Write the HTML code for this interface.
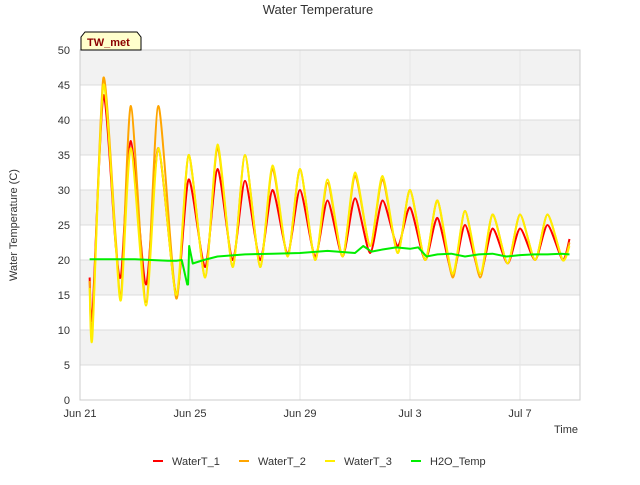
<!DOCTYPE html>
<html><head><meta charset="utf-8"><style>
body{margin:0;background:#fff;font-family:"Liberation Sans",sans-serif;}
svg text{font-family:"Liberation Sans",sans-serif;}
</style></head><body>
<svg id="c" width="640" height="480">
<text x="318" y="14" text-anchor="middle" font-size="13" fill="#333">Water Temperature</text>
<g id="bands"></g><g id="grid"></g><g id="series"></g><g id="axes"></g>
<text x="17" y="225" transform="rotate(-90 17 225)" text-anchor="middle" font-size="11" fill="#333">Water Temperature (C)</text>
<text x="578" y="433" text-anchor="end" font-size="11" fill="#333">Time</text>
<g><path d="M81 50 L81 37 L85 32 L137 32 L141 37 L141 50 Z" fill="#ffffcc" stroke="#000"/><text x="87" y="46" font-size="11" font-weight="bold" fill="#8b0000">TW_met</text></g>
<g id="legend"></g>
</svg>
<script>
const times=[0.35,0.45,0.85,1.3,1.5,1.85,2.4,2.85,3.5,3.95,4.55,5.0,5.55,6.0,6.55,7.0,7.55,8.0,8.55,9.0,9.55,10.0,10.55,11.0,11.55,12.0,12.55,13.0,13.55,14.0,14.55,15.0,15.55,16.0,16.55,17.0,17.55,17.8];
const waterT1=[17.5,12,43.5,22,18,37,16.5,36,15,31.5,19,33,20,31.3,20,30,21,30,20.5,28.5,20.5,28.8,21,28.5,22,27.5,20,26,18,25,18,24.5,19.5,24.5,20,25,20,23];
const waterT2=[17,10,46,23,15,42,14,42,14.5,35,17.5,36,19,35,19,33,20.5,33,20,31,20.5,32,22,31.5,21,30,20,28.5,17.5,27,17.5,26.5,19.5,26.5,20,26.5,20,22.5];
const waterT3=[16,9,45,22,14.5,36,13.5,36,15,35,17.5,36.5,19,35,19,33.5,20.5,33,20,31.5,20.5,32.5,22,32,21,30,20,28.5,18,27,18,26.5,19.5,26.5,20,26.5,20,22];
const h2oTimes=[0.35,2,3.2,3.5,3.7,3.9,3.93,3.97,4.1,4.5,5,6,7,8,9,10,10.3,10.6,11,11.5,12,12.3,12.6,13,13.5,14,14.5,15,15.5,16,16.5,17,17.5,17.8];
const h2oTemp=[20.1,20.1,19.9,19.9,20,16.5,16.5,22,19.5,20,20.5,20.8,20.9,21,21.3,21,22,21.2,21.5,21.8,21.6,21.8,20.5,20.8,20.9,20.5,20.8,20.9,20.5,20.7,20.8,20.8,20.9,20.8];
const yTicks=[0,5,10,15,20,25,30,35,40,45,50];
const xTickLabels=["Jun 21","Jun 25","Jun 29","Jul 3","Jul 7"];
const xTickDays=[0,4,8,12,16];
const NS="http://www.w3.org/2000/svg";
const L=80,R=580,T=50,B=400;
const xs=d=>L+d*27.5, ys=v=>B-(v/50)*(B-T);
function mk(tag,attrs,parent){const e=document.createElementNS(NS,tag);for(const k in attrs)e.setAttribute(k,attrs[k]);parent.appendChild(e);return e;}
const bands=document.getElementById('bands'),grid=document.getElementById('grid'),axes=document.getElementById('axes'),series=document.getElementById('series'),legend=document.getElementById('legend');
for(let i=0;i<yTicks.length-1;i++){if(i%2===1){const r=mk('rect',{x:L,y:ys(yTicks[i+1]),width:R-L,height:ys(yTicks[i])-ys(yTicks[i+1]),fill:'#f2f2f2'},bands);}}
yTicks.forEach(v=>{const l=mk('line',{x1:L,x2:R,y1:ys(v),y2:ys(v),stroke:'#dcdcdc'},grid);
const t=mk('text',{x:L-10,y:ys(v)+4,'text-anchor':'end','font-size':11,fill:'#333'},axes);t.textContent=v;});
xTickDays.forEach((d,i)=>{const l=mk('line',{x1:xs(d),x2:xs(d),y1:T,y2:B,stroke:'#e6e6e6'},grid);
const t=mk('text',{x:xs(d),y:B+17,'text-anchor':'middle','font-size':11,fill:'#333'},axes);t.textContent=xTickLabels[i];});
mk('rect',{x:L,y:T,width:R-L,height:B-T,fill:'none',stroke:'#ccc'},axes);
function smoothPath(pts,k){let d='M'+pts[0][0]+','+pts[0][1];
for(let i=0;i<pts.length-1;i++){const p0=pts[i-1]||pts[i],p1=pts[i],p2=pts[i+1],p3=pts[i+2]||p2;
const c1x=p1[0]+(p2[0]-p0[0])*k,c1y=p1[1]+(p2[1]-p0[1])*k,c2x=p2[0]-(p3[0]-p1[0])*k,c2y=p2[1]-(p3[1]-p1[1])*k;
d+=' C'+c1x+','+c1y+' '+c2x+','+c2y+' '+p2[0]+','+p2[1];}return d;}
function line(tt,vv,color,name,k){const pts=tt.map((t,i)=>[xs(t),ys(vv[i])]);const p=mk('path',{d:smoothPath(pts,k),fill:'none',stroke:color,'stroke-width':2,'stroke-linejoin':'round'},series);}
line(times,waterT1,'#ff0000','watert1-line',0.12);
line(times,waterT2,'#ffa500','watert2-line',0.12);
line(times,waterT3,'#ffee00','watert3-line',0.12);
line(h2oTimes,h2oTemp,'#00ee00','h2o-temp-line',0);
const leg=[['WaterT_1','#ff0000',153],['WaterT_2','#ffa500',239],['WaterT_3','#ffee00',325],['H2O_Temp','#00ee00',411]];
leg.forEach(([n,c,x])=>{const g=mk('g',{},legend);
mk('line',{x1:x,x2:x+10,y1:461,y2:461,stroke:c,'stroke-width':2},g);const t=mk('text',{x:x+19,y:465,'font-size':11,fill:'#333'},g);t.textContent=n;});
</script>
</body></html>
